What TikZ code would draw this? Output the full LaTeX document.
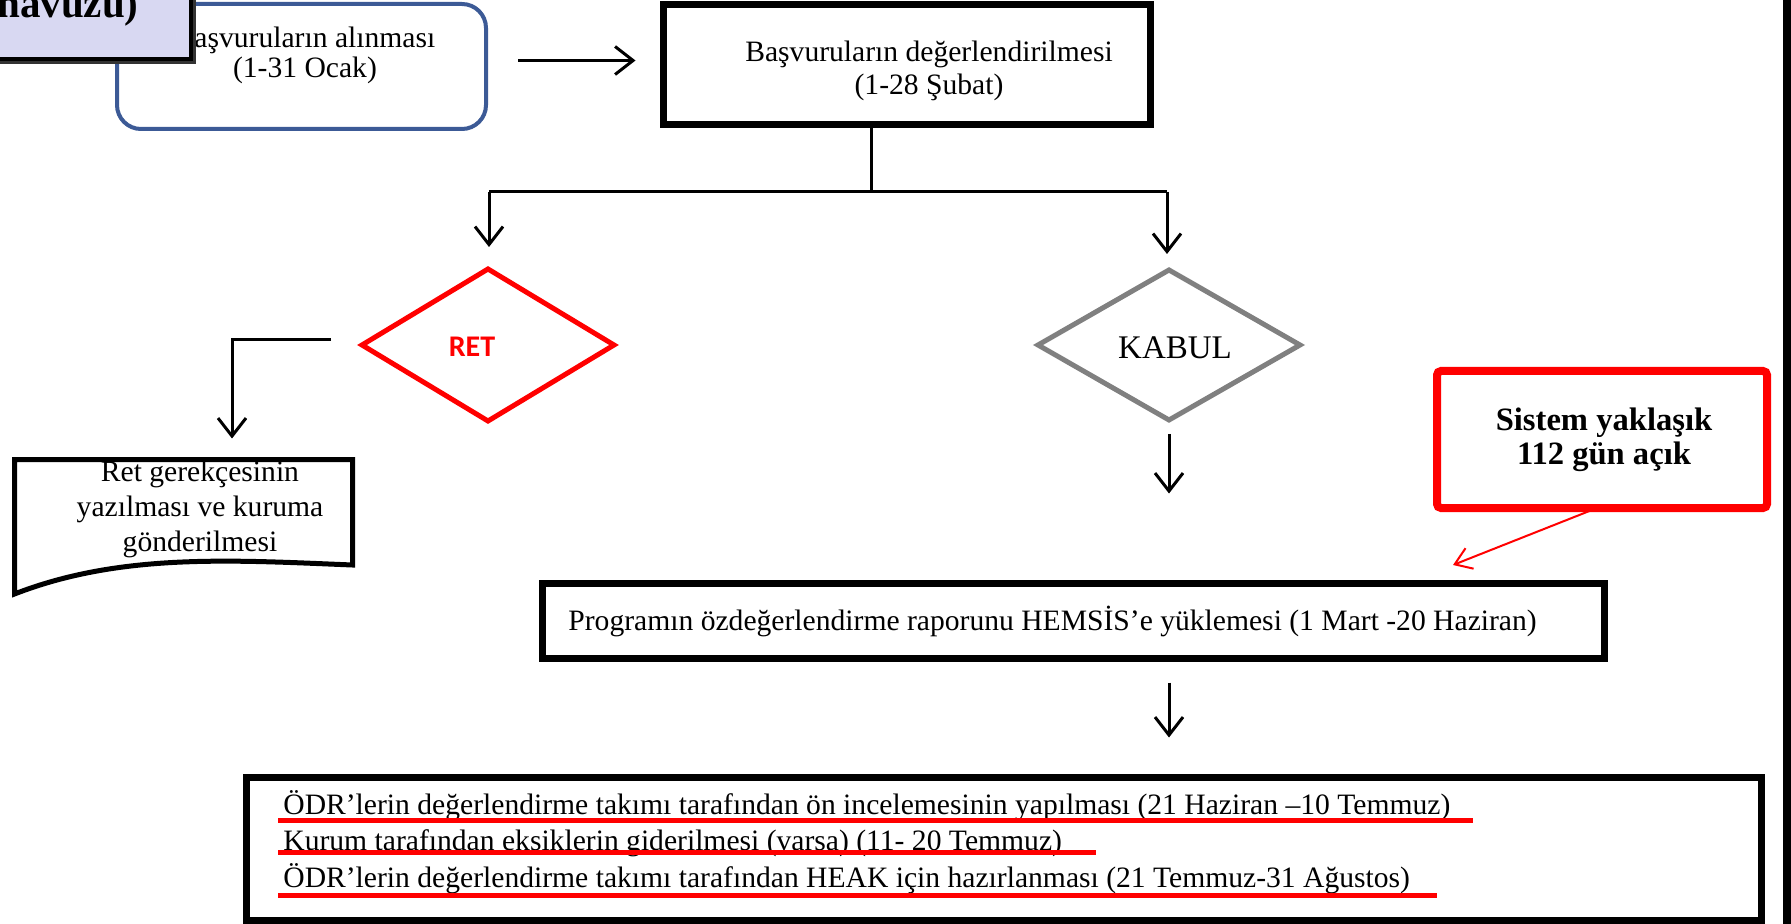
\documentclass[tikz,border=0pt]{standalone}
\usepackage{fontspec}
\setmainfont{Liberation Serif}
\newfontfamily\calibrifont{Carlito}
\usetikzlibrary{arrows.meta,shapes.geometric,fit,calc}
\definecolor{boxblue}{RGB}{60,90,150}
\definecolor{lav}{RGB}{216,216,242}
\definecolor{redc}{RGB}{255,0,0}
\definecolor{grayc}{RGB}{128,128,128}
\begin{document}
\begin{tikzpicture}[x=0.5pt,y=-0.5pt,
  fitbox/.style={inner sep=0pt,outer sep=0pt},
  txt/.style={inner sep=0pt,font=\fontsize{14.8pt}{15pt}\selectfont},
  conn/.style={line width=1.5pt},
  arr/.style={line width=1.5pt,-{Straight Barb[length=9pt,width=14pt,line width=1.5pt]}},
  redarr/.style={draw=redc,line width=1pt,-{Straight Barb[length=8pt,width=11pt,line width=1pt]}},
  ul/.style={draw=redc,line width=2.5pt},
  thickbox/.style={fitbox,draw=black,line width=3.5pt}]
\useasboundingbox (0,0) rectangle (1791,924);

% right edge bar
\fill[black] (1783,0) rectangle (1791,924);

% box 1
\node[fitbox,draw=boxblue,line width=2pt,rounded corners=12pt,fit={(117,4) (486,129)}] (b1) {};
\node[txt,align=center] (t1) at (305,55) {Başvuruların alınması\\(1-31 Ocak)};

% havuzu box (on top)
\fill[black!80] (0,0) rectangle (196,64);
\node[fitbox,draw=black,fill=lav,line width=2pt,fit={(-5,-5) (191,59)}] (hv) {};
\node[inner sep=0pt,anchor=base west,font=\bfseries\fontsize{20.5pt}{20.5pt}\selectfont] (hvt) at (-3,18) {havuzu)};

% box 2
\node[thickbox,fit={(663.5,4.5) (1150.5,124.5)}] (b2) {};
\node[txt,align=center,font=\fontsize{14.8pt}{16.5pt}\selectfont] (t2) at (929,71) {Başvuruların değerlendirilmesi\\(1-28 Şubat)};

\draw[arr,shorten <=16pt,shorten >=14pt] ([yshift=3pt]b1.east) -- ([yshift=3pt]b1.east -| b2.west);

% diamonds
\node[diamond,draw=redc,line width=2.5pt,minimum width=126pt,minimum height=76pt,inner sep=0pt,outer sep=0pt] (ret) at (488,345) {};
\node[inner sep=0pt,text=redc,font=\calibrifont\bfseries\fontsize{15pt}{15pt}\selectfont] (rett) at (472,347) {RET};
\node[diamond,draw=grayc,line width=2.5pt,minimum width=131pt,minimum height=75pt,inner sep=0pt,outer sep=0pt] (kab) at (1169,345) {};
\node[inner sep=0pt,font=\fontsize{16.5pt}{16.5pt}\selectfont] (kabt) at (1175,348) {KABUL};

% split
\coordinate (jm) at (871,192);
\coordinate (jl) at (489,192);
\coordinate (jr) at (1167,192);
\draw[conn] (b2.south -| jm) -- (jm);
\draw[conn] (jl) -- (jr);
\draw[arr,shorten >=11pt] (jl) -- (jl |- ret.north);
\draw[arr,shorten >=8pt] (jr) -- (jr |- kab.north);

% ret document
\node[fitbox,fit={(14.5,459.5) (352.5,565)}] (rdoc) {};
\draw[line width=2.5pt] (rdoc.north west) -- (rdoc.north east) -- (rdoc.south east)
  .. controls (230,560) and (120,553) .. (14.5,594) -- cycle;
\node[txt,align=center,font=\fontsize{14.8pt}{17.5pt}\selectfont] (rdt) at (200,509) {Ret gerekçesinin\\yazılması ve kuruma\\gönderilmesi};

\coordinate (rc) at (232,340);
\draw[arr,shorten >=10.5pt] ([shift={(-31,-5)}]ret.west) -- (rc) -- (rc |- rdoc.north);

% box 3
\node[thickbox,fit={(542.5,583.5) (1604.5,658.5)}] (b3) {};
\node[txt,anchor=base west] (t3) at (568,630) {Programın özdeğerlendirme raporunu HEMSİS’e yüklemesi (1 Mart -20 Haziran)};

\draw[arr,shorten <=7pt,shorten >=45pt] (kab.south) -- (kab.south |- b3.north);

% box 4
\node[thickbox,fit={(246.5,777.5) (1761.5,920)}] (b4) {};
\draw[arr,shorten <=12pt,shorten >=20pt] (b3.south -| kab.south) -- (b4.north -| kab.south);

\node[txt,anchor=base west] (l1) at (283,814) {ÖDR’lerin değerlendirme takımı tarafından ön incelemesinin yapılması (21 Haziran –10 Temmuz)};
\node[txt,anchor=base west] (l2) at (283,850) {Kurum tarafından eksiklerin giderilmesi (varsa) (11- 20 Temmuz)};
\node[txt,anchor=base west] (l3) at (283,887) {ÖDR’lerin değerlendirme takımı tarafından HEAK için hazırlanması (21 Temmuz-31 Ağustos)};
\draw[ul] (278,820) -- (1473,820);
\draw[ul] (278,852) -- (1096,852);
\draw[ul] (278,895) -- (1437,895);

% system box
\node[fitbox,draw=redc,line width=4pt,rounded corners=2pt,fit={(1437,371) (1767,508)}] (sys) {};
\node[inner sep=0pt,align=center,font=\bfseries\fontsize{16.3pt}{16.8pt}\selectfont] (syst) at (1604,440) {Sistem yaklaşık\\112 gün açık};
\coordinate (systip) at (1453,565);
\draw[redarr] ([xshift=-2.5pt]sys.south) -- (systip);
\end{tikzpicture}
\end{document}
